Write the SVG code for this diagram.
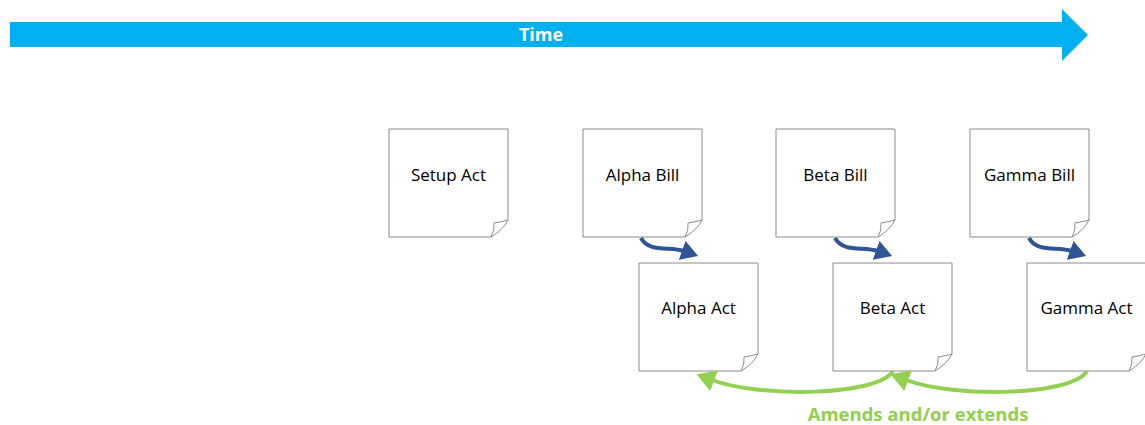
<svg xmlns="http://www.w3.org/2000/svg" width="1145" height="425" viewBox="0 0 1145 425">
<style>
.note{fill:#fff;stroke:#8c8c8c;stroke-width:1}
.fold{fill:none;stroke:#8c8c8c;stroke-width:1}
.lbl{font-family:"Open Sans","Liberation Sans",sans-serif;font-size:17px;fill:#000;text-anchor:middle}
.blue{fill:none;stroke:#2F5597;stroke-width:4}
.green{fill:none;stroke:#92D050;stroke-width:4}
</style>
<defs>
<g id="page">
<path class="note" d="M0,0 H119 V91 Q114,101 102,108 H0 Z"/>
<path class="fold" d="M102,108 Q106,101 105,94 Q112,93 119,91"/>
</g>
<marker id="hb" markerUnits="userSpaceOnUse" markerWidth="20" markerHeight="20" refX="2" refY="10" orient="auto" viewBox="0 0 20 20">
<path d="M0,0 L17,10 L0,20 Z" fill="#2F5597"/>
</marker>
<marker id="hg" markerUnits="userSpaceOnUse" markerWidth="22" markerHeight="22" refX="2" refY="10" orient="auto" viewBox="0 0 20 20">
<path d="M0,0 L17,10 L0,20 Z" fill="#92D050"/>
</marker>
</defs>
<g id="timeline">
<path d="M10,22 H1062 V9 L1088,35 L1062,61 V47 H10 Z" fill="#00B0F0"/>
<text x="541" y="41" font-family="'Open Sans','Liberation Sans',sans-serif" font-size="18" font-weight="bold" fill="#fff" text-anchor="middle">Time</text>
</g>
<g id="setup-act"><use href="#page" x="389" y="129"/><text class="lbl" x="448.5" y="181">Setup Act</text></g>
<g id="alpha-bill"><use href="#page" x="583" y="129"/><text class="lbl" x="642.5" y="181">Alpha Bill</text></g>
<g id="beta-bill"><use href="#page" x="776" y="129"/><text class="lbl" x="835.5" y="181">Beta Bill</text></g>
<g id="gamma-bill"><use href="#page" x="970" y="129"/><text class="lbl" x="1029.5" y="181">Gamma Bill</text></g>
<g id="alpha-act"><use href="#page" x="639" y="263"/><text class="lbl" x="698.5" y="314">Alpha Act</text></g>
<g id="beta-act"><use href="#page" x="833" y="263"/><text class="lbl" x="892.5" y="314">Beta Act</text></g>
<g id="gamma-act"><use href="#page" x="1027" y="263"/><text class="lbl" x="1086.5" y="314">Gamma Act</text></g>
<g id="connectors">
<path class="blue" marker-end="url(#hb)" d="M641,238 C649,253 670,246 684,251"/>
<path class="blue" marker-end="url(#hb)" d="M835,238 C843,253 864,246 878,251"/>
<path class="blue" marker-end="url(#hb)" d="M1029,238 C1037,253 1058,246 1072,251"/>
<path class="green" marker-end="url(#hg)" d="M893,371 C878,396 760,398 712,380"/>
<path class="green" marker-end="url(#hg)" d="M1087,371 C1072,396 954,398 906,380"/>
<text x="918" y="421" font-family="'Open Sans','Liberation Sans',sans-serif" font-size="18.5" font-weight="bold" fill="#92D050" text-anchor="middle">Amends and/or extends</text>
</g>
</svg>
